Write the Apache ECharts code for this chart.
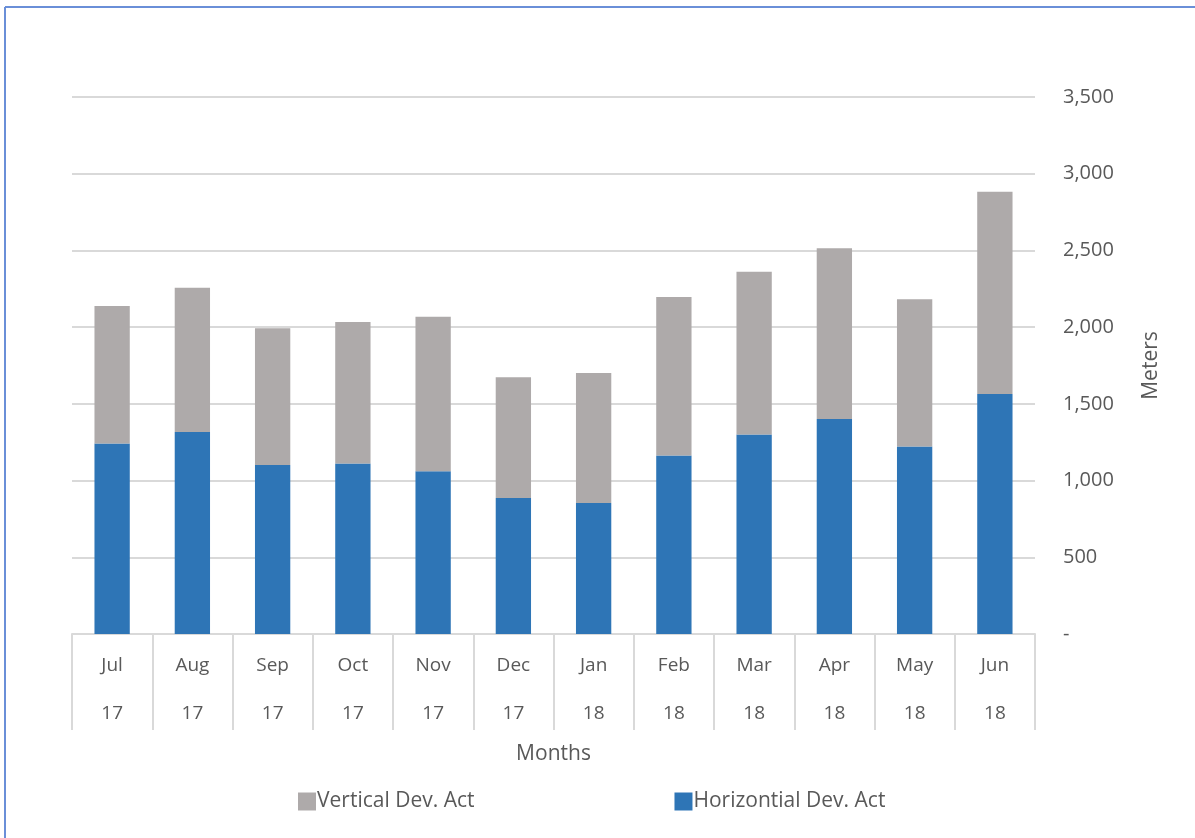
<!DOCTYPE html>
<html>
<head>
<meta charset="utf-8">
<script src="https://cdn.jsdelivr.net/npm/echarts@6/dist/echarts.min.js"></script>
<style>
html,body{margin:0;padding:0;background:#fff;}
#chart{width:1195px;height:838px;}
</style>
</head>
<body>
<div id="chart"></div>
<script>
const months = ['Jul','Aug','Sep','Oct','Nov','Dec','Jan','Feb','Mar','Apr','May','Jun'];
const years = ['17','17','17','17','17','17','18','18','18','18','18','18'];
const horizontal = [1241,1317,1102,1111,1061,887,854,1163,1300,1402,1222,1564];
const totals = [2137,2257,1992,2033,2068,1673,1701,2196,2361,2515,2181,2882];
const vertical = totals.map((t,i)=>t-horizontal[i]);
const yTicks = [0,500,1000,1500,2000,2500,3000,3500];

const FONT = '"Open Sans", "Noto Sans", sans-serif';
const TXT = '#595959';
const chart = echarts.init(document.getElementById('chart'));
chart.setOption({
  animation:false,
  textStyle:{fontFamily:FONT},
  grid:{left:72,right:160,top:97,bottom:204},
  graphic:[
    {type:'line',shape:{x1:5,y1:7,x2:1195,y2:7},style:{stroke:'#6a8fd8',lineWidth:2}},
    {type:'line',shape:{x1:5,y1:7,x2:5,y2:838},style:{stroke:'#6a8fd8',lineWidth:2}}
  ],
  legend:{
    bottom:21,left:293,itemGap:200,itemWidth:18,itemHeight:18,
    icon:'rect',
    textStyle:{fontFamily:FONT,fontSize:21,color:TXT,padding:[0,0,0,-4]},
    data:['Vertical Dev. Act','Horizontial Dev. Act']
  },
  xAxis:{
    type:'category',data:months.map((m,i)=>m+'\n'+years[i]),
    name:'Months',nameLocation:'middle',nameGap:110,
    nameTextStyle:{fontFamily:FONT,fontSize:21,color:TXT},
    axisLine:{lineStyle:{color:'#d9d9d9',width:2}},
    axisTick:{show:true,length:96,lineStyle:{color:'#d9d9d9',width:2}},
    axisLabel:{margin:8,lineHeight:48,fontSize:19,color:TXT,fontFamily:FONT}
  },
  yAxis:{
    type:'value',position:'right',min:0,max:3500,interval:500,
    name:'Meters',nameLocation:'middle',nameGap:106,nameRotate:90,
    nameTextStyle:{fontFamily:FONT,fontSize:21,color:TXT},
    axisLine:{show:false},axisTick:{show:false},
    splitLine:{lineStyle:{color:'#d9d9d9',width:2}},
    axisLabel:{margin:28,fontSize:20,color:TXT,fontFamily:FONT,
      formatter:v=>v===0?'-':v.toLocaleString('en-US')}
  },
  series:[
    {name:'Horizontial Dev. Act',type:'bar',stack:'a',data:horizontal,barWidth:'44%',
      itemStyle:{color:'#2e75b6'}},
    {name:'Vertical Dev. Act',type:'bar',stack:'a',data:vertical,barWidth:'44%',
      itemStyle:{color:'#aeaaaa'}}
  ]
});
</script>
</body>
</html>
